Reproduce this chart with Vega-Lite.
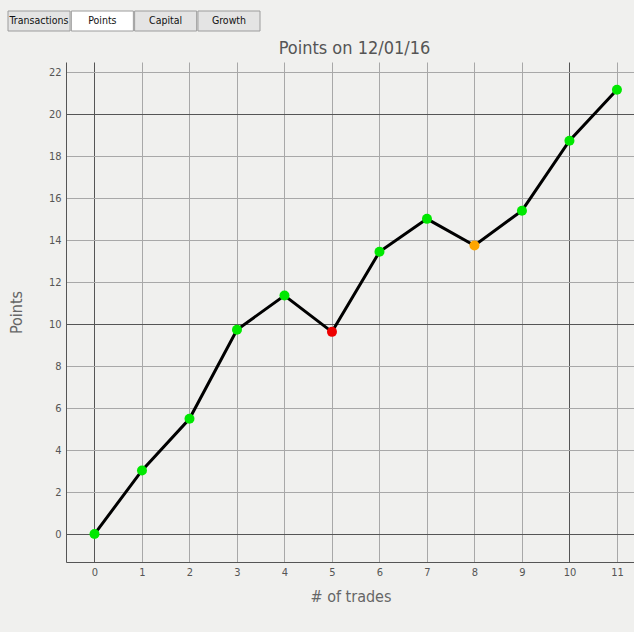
{
  "$schema": "https://vega.github.io/schema/vega-lite/v6.json",
  "background": "#f0f0ee",
  "padding": {"left": 7, "top": 10, "right": 0, "bottom": 28},
  "spacing": 8,
  "datasets": {
    "tabs": [
      {"tab": "Transactions", "selected": false},
      {"tab": "Points", "selected": true},
      {"tab": "Capital", "selected": false},
      {"tab": "Growth", "selected": false}
    ],
    "trades": [
      {"trade": 0, "points": 0, "result": "win"},
      {"trade": 1, "points": 3.03, "result": "win"},
      {"trade": 2, "points": 5.49, "result": "win"},
      {"trade": 3, "points": 9.73, "result": "win"},
      {"trade": 4, "points": 11.36, "result": "win"},
      {"trade": 5, "points": 9.63, "result": "loss"},
      {"trade": 6, "points": 13.44, "result": "win"},
      {"trade": 7, "points": 15.01, "result": "win"},
      {"trade": 8, "points": 13.74, "result": "small loss"},
      {"trade": 9, "points": 15.4, "result": "win"},
      {"trade": 10, "points": 18.73, "result": "win"},
      {"trade": 11, "points": 21.16, "result": "win"}
    ]
  },
  "vconcat": [
    {
      "width": 194,
      "height": 20,
      "data": {"name": "tabs"},
      "layer": [
        {
          "mark": {"type": "bar", "stroke": "#9c9c9c", "strokeWidth": 1, "clip": false},
          "encoding": {
            "x": {"field": "tab", "type": "nominal", "sort": null, "axis": null,
                  "scale": {"range": [-58, 194], "paddingInner": 0.02, "paddingOuter": 0}},
            "fill": {"condition": {"test": "datum.selected", "value": "#ffffff"}, "value": "#e4e4e4"}
          }
        },
        {
          "mark": {"type": "text", "fontSize": 10.5, "color": "#111111", "baseline": "middle"},
          "encoding": {
            "x": {"field": "tab", "type": "nominal", "sort": null, "axis": null},
            "text": {"field": "tab"}
          }
        }
      ]
    },
    {
      "width": 569,
      "height": 500,
      "data": {"name": "trades"},
      "title": {
        "text": "Points on 12/01/16",
        "fontSize": 18,
        "fontWeight": "normal",
        "color": "#555555",
        "baseline": "alphabetic",
        "offset": -10,
        "dx": 4
      },
      "encoding": {
        "x": {
          "field": "trade", "type": "quantitative",
          "scale": {"domain": [-0.6, 11.38], "nice": false, "zero": false},
          "axis": {
            "title": "# of trades",
            "values": [0, 1, 2, 3, 4, 5, 6, 7, 8, 9, 10, 11],
            "labelPadding": 4,
            "titlePadding": 11
          }
        },
        "y": {
          "field": "points", "type": "quantitative",
          "scale": {"domain": [-1.33, 22.48], "nice": false, "zero": false},
          "axis": {
            "title": "Points",
            "values": [0, 2, 4, 6, 8, 10, 12, 14, 16, 18, 20, 22],
            "labelPadding": 5,
            "titlePadding": 24
          }
        }
      },
      "layer": [
        {"mark": {"type": "line", "color": "#000000", "strokeWidth": 3}},
        {
          "mark": {"type": "circle", "size": 100, "opacity": 1},
          "encoding": {
            "color": {
              "field": "result", "type": "nominal", "legend": null,
              "scale": {"domain": ["win", "loss", "small loss"], "range": ["#00e800", "#ee0000", "#ffa500"]}
            }
          }
        }
      ]
    }
  ],
  "config": {
    "font": "DejaVu Sans Condensed, DejaVu Sans",
    "view": {"stroke": null},
    "axis": {
      "grid": true,
      "gridColor": {"condition": {"test": "datum.value % 10 === 0", "value": "#555555"}, "value": "#a8a8a8"},
      "gridWidth": 1,
      "gridOpacity": 1,
      "ticks": false,
      "tickSize": 0,
      "domainColor": "#555555",
      "domainWidth": 1,
      "labelColor": "#555555",
      "labelFontSize": 11,
      "labelFlush": false,
      "titleColor": "#666666",
      "titleFontSize": 16,
      "titleFontWeight": "normal"
    }
  }
}
